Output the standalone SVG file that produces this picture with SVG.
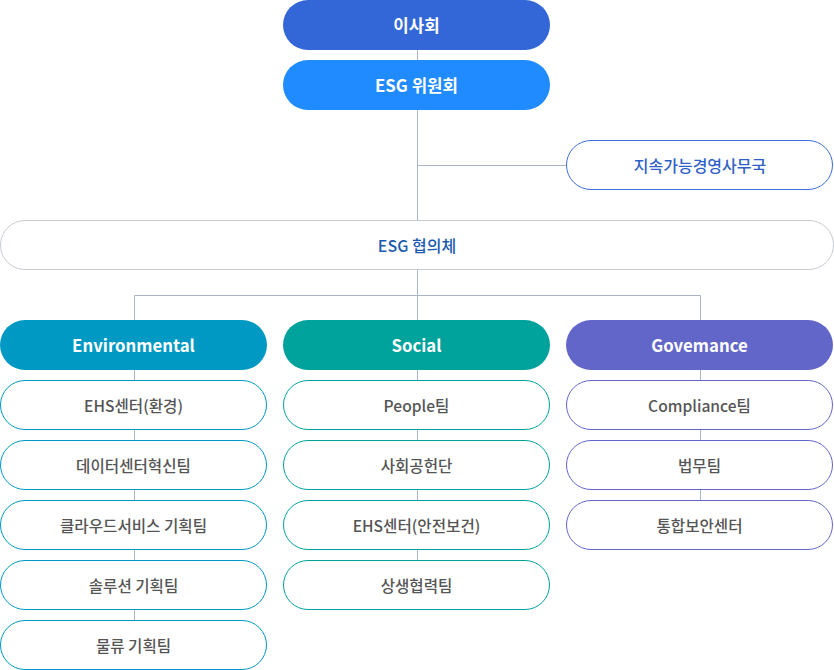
<svg xmlns="http://www.w3.org/2000/svg" width="834" height="670" viewBox="0 0 834 670">
<style>
text{font-family:"Noto Sans CJK KR","Noto Sans",sans-serif;text-anchor:middle;dominant-baseline:central}
.h{font-size:16.8px;font-weight:700;fill:#fff}
.s{font-size:15.6px;font-weight:500;fill:#555}
.ln{stroke:#a9b5c4;stroke-width:1;fill:none}
.env{fill:#fff;stroke:#0099c3}
.soc{fill:#fff;stroke:#00a29c}
.gov{fill:#fff;stroke:#6366c9}
</style>
<g id="connectors">
<path class="ln" d="M417.5 50V60M417.5 110V220M417.5 165.5H566M417.5 270V320M134.5 320V295.5H700.5V320M134.5 370V620M417.5 370V560M700.5 370V500"/>
</g>
<g id="n-board"><rect x="283" y="0" width="267" height="50" rx="25" fill="#3366d6"/><text class="h" x="416.5" y="24.5">이사회</text></g>
<g id="n-committee"><rect x="283" y="60" width="267" height="50" rx="25" fill="#1f8bff"/><text class="h" x="416.5" y="84.5">ESG 위원회</text></g>
<g id="n-office"><rect x="566.5" y="140.5" width="266" height="49" rx="24.5" fill="#fff" stroke="#3a6ed8"/><text x="700" y="165" style="font-size:16px;font-weight:500;fill:#2f5fc6">지속가능경영사무국</text></g>
<g id="n-council"><rect x="0.5" y="220.5" width="833" height="49" rx="24.5" fill="#fff" stroke="#c6cbd2"/><text x="417" y="245" style="font-size:16px;font-weight:500;fill:#1a5bb0">ESG 협의체</text></g>

<g id="n-env"><rect x="0" y="320" width="267" height="50" rx="25" fill="#0099c3"/><text class="h" x="133.5" y="344.5">Environmental</text></g>
<g id="n-env1"><rect class="env" x="0.5" y="380.5" width="266" height="49" rx="24.5"/><text class="s" x="133.5" y="405">EHS센터(환경)</text></g>
<g id="n-env2"><rect class="env" x="0.5" y="440.5" width="266" height="49" rx="24.5"/><text class="s" x="133.5" y="465">데이터센터혁신팀</text></g>
<g id="n-env3"><rect class="env" x="0.5" y="500.5" width="266" height="49" rx="24.5"/><text class="s" x="133.5" y="525">클라우드서비스 기획팀</text></g>
<g id="n-env4"><rect class="env" x="0.5" y="560.5" width="266" height="49" rx="24.5"/><text class="s" x="133.5" y="585">솔루션 기획팀</text></g>
<g id="n-env5"><rect class="env" x="0.5" y="620.5" width="266" height="49" rx="24.5"/><text class="s" x="133.5" y="645">물류 기획팀</text></g>

<g id="n-soc"><rect x="283" y="320" width="267" height="50" rx="25" fill="#00a29c"/><text class="h" x="416.5" y="344.5">Social</text></g>
<g id="n-soc1"><rect class="soc" x="283.5" y="380.5" width="266" height="49" rx="24.5"/><text class="s" x="416.5" y="405">People팀</text></g>
<g id="n-soc2"><rect class="soc" x="283.5" y="440.5" width="266" height="49" rx="24.5"/><text class="s" x="416.5" y="465">사회공헌단</text></g>
<g id="n-soc3"><rect class="soc" x="283.5" y="500.5" width="266" height="49" rx="24.5"/><text class="s" x="416.5" y="525">EHS센터(안전보건)</text></g>
<g id="n-soc4"><rect class="soc" x="283.5" y="560.5" width="266" height="49" rx="24.5"/><text class="s" x="416.5" y="585">상생협력팀</text></g>

<g id="n-gov"><rect x="566" y="320" width="267" height="50" rx="25" fill="#6366c9"/><text class="h" x="699.5" y="344.5">Govemance</text></g>
<g id="n-gov1"><rect class="gov" x="566.5" y="380.5" width="266" height="49" rx="24.5"/><text class="s" x="699.5" y="405">Compliance팀</text></g>
<g id="n-gov2"><rect class="gov" x="566.5" y="440.5" width="266" height="49" rx="24.5"/><text class="s" x="699.5" y="465">법무팀</text></g>
<g id="n-gov3"><rect class="gov" x="566.5" y="500.5" width="266" height="49" rx="24.5"/><text class="s" x="699.5" y="525">통합보안센터</text></g>
</svg>
